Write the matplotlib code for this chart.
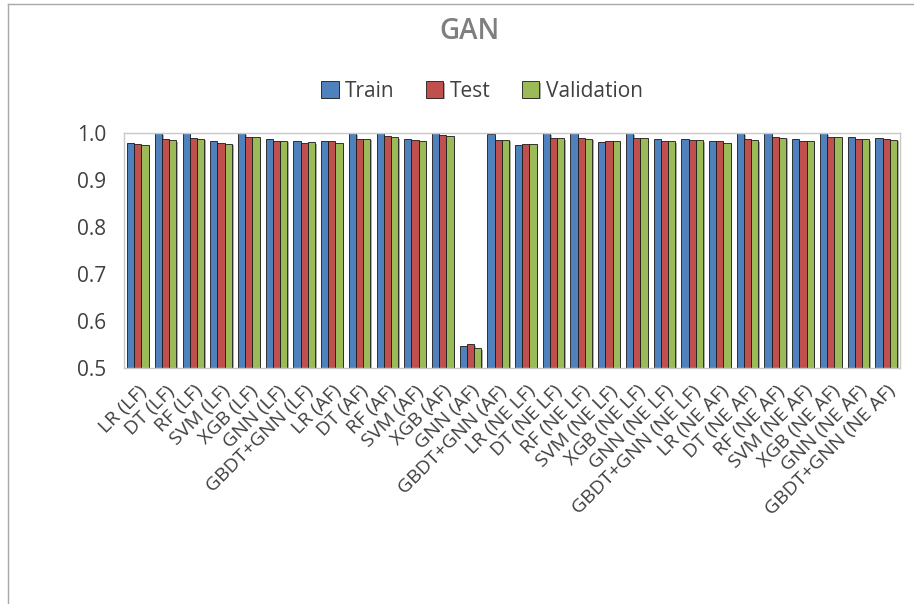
import numpy as np
import matplotlib
matplotlib.use("Agg")
import matplotlib.pyplot as plt
import matplotlib.patheffects as pe

plt.rcParams['font.family'] = ['Open Sans', 'DejaVu Sans']

# models x feature sets
labels = ["LR (LF)", "DT (LF)", "RF (LF)", "SVM (LF)", "XGB (LF)", "GNN (LF)", "GBDT+GNN (LF)",
          "LR (AF)", "DT (AF)", "RF (AF)", "SVM (AF)", "XGB (AF)", "GNN (AF)", "GBDT+GNN (AF)",
          "LR (NE LF)", "DT (NE LF)", "RF (NE LF)", "SVM (NE LF)", "XGB (NE LF)", "GNN (NE LF)", "GBDT+GNN (NE LF)",
          "LR (NE AF)", "DT (NE AF)", "RF (NE AF)", "SVM (NE AF)", "XGB (NE AF)", "GNN (NE AF)", "GBDT+GNN (NE AF)"]

train = [0.978, 1.000, 1.000, 0.982, 1.000, 0.987, 0.982,
         0.982, 1.000, 1.000, 0.988, 1.000, 0.546, 0.998,
         0.974, 1.000, 1.000, 0.981, 1.000, 0.987, 0.988,
         0.982, 1.000, 1.000, 0.987, 1.000, 0.991, 0.989]
test = [0.976, 0.988, 0.989, 0.978, 0.992, 0.984, 0.979,
        0.982, 0.988, 0.993, 0.985, 0.995, 0.551, 0.986,
        0.977, 0.989, 0.989, 0.982, 0.990, 0.982, 0.985,
        0.982, 0.987, 0.991, 0.984, 0.992, 0.987, 0.987]
validation = [0.975, 0.985, 0.988, 0.977, 0.991, 0.984, 0.981,
              0.978, 0.988, 0.991, 0.982, 0.994, 0.542, 0.986,
              0.977, 0.989, 0.988, 0.982, 0.990, 0.983, 0.985,
              0.978, 0.985, 0.990, 0.982, 0.992, 0.987, 0.986]

series = [("Train", train, "#4F81BD"), ("Test", test, "#C0504D"), ("Validation", validation, "#9BBB59")]

fig = plt.figure(figsize=(9.14, 6.04), dpi=100)
ax = fig.add_axes([0.1357, 0.3907, 0.8490, 0.3891])

x = np.arange(len(labels))
w = 0.26
shadow = [pe.SimplePatchShadow(offset=(1.2, -1.2), shadow_rgbFace='#777777', alpha=0.6), pe.Normal()]
for i, (name, vals, col) in enumerate(series):
    bars = ax.bar(x + (i - 1) * w, np.array(vals) - 0.5, width=w, bottom=0.5, color=col,
                  edgecolor='#1a1a1a', linewidth=0.6, label=name)
    for b in bars:
        b.set_path_effects(shadow)

ax.set_xlim(-0.5, len(labels) - 0.5)
ax.set_ylim(0.5, 1.0)
ax.set_yticks([0.5, 0.6, 0.7, 0.8, 0.9, 1.0])
ax.set_yticklabels(["0.5", "0.6", "0.7", "0.8", "0.9", "1.0"], fontsize=15, color='#404040')
ax.set_xticks(x)
ax.set_xticklabels(labels, rotation=45, ha='right', rotation_mode='anchor', fontsize=14, color='#404040')
ax.tick_params(axis='y', length=0, pad=13)
ax.tick_params(axis='x', length=0, pad=10)
for s in ax.spines.values():
    s.set_color('#c8c8c8')
    s.set_linewidth(1.0)

fig.text(0.514, 0.948, "GAN", ha='center', va='center', fontsize=20, fontweight='semibold', color='#7f7f7f')
leg = fig.legend(loc='center', bbox_to_anchor=(0.527, 0.849), ncol=3, frameon=False, fontsize=15,
                 handlelength=0.85, handleheight=0.85, handletextpad=0.3, columnspacing=1.5)
for t in leg.get_texts():
    t.set_color('#404040')

# chart frame: left and top edges
fig.add_artist(plt.Line2D([0.0091, 0.0091], [0, 0.993], color='#a8a8a8', linewidth=1.0, transform=fig.transFigure))
fig.add_artist(plt.Line2D([0.0091, 1], [0.993, 0.993], color='#a8a8a8', linewidth=1.0, transform=fig.transFigure))

fig.savefig("out.png", dpi=100)
